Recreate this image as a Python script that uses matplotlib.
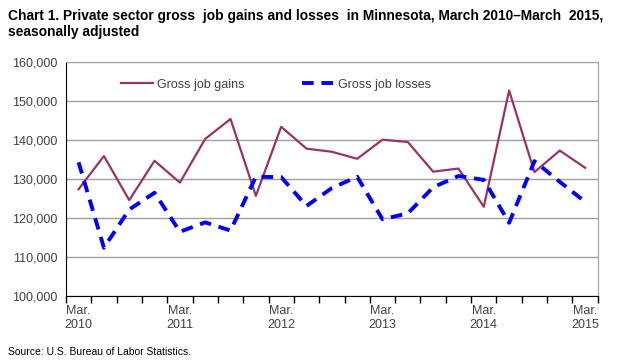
import numpy as np
import matplotlib.pyplot as plt

plt.rcParams['font.family'] = ['Liberation Sans', 'DejaVu Sans']

# Quarterly data, March 2010 - March 2015
quarters = ['Mar.\n2010', 'Jun.\n2010', 'Sep.\n2010', 'Dec.\n2010',
            'Mar.\n2011', 'Jun.\n2011', 'Sep.\n2011', 'Dec.\n2011',
            'Mar.\n2012', 'Jun.\n2012', 'Sep.\n2012', 'Dec.\n2012',
            'Mar.\n2013', 'Jun.\n2013', 'Sep.\n2013', 'Dec.\n2013',
            'Mar.\n2014', 'Jun.\n2014', 'Sep.\n2014', 'Dec.\n2014',
            'Mar.\n2015']
gains = [127300, 135800, 124500, 134600, 129000, 140200, 145300, 125600,
         143300, 137700, 136900, 135100, 140000, 139400, 131800, 132600,
         122800, 152600, 131700, 137200, 132800]
losses = [134200, 112300, 122100, 126400, 116400, 118800, 116700, 130500,
          130400, 123000, 127600, 130500, 119600, 121100, 127800, 130700,
          129700, 118700, 134500, 129200, 124100]

x = np.arange(len(quarters))

fig = plt.figure(figsize=(6.4, 3.64), dpi=100)
ax = fig.add_axes([0.103, 0.1876, 0.831, 0.643])

ax.plot(x, gains, color='#993366', lw=1.6, label='Gross job gains')
ax.plot(x, losses, color='#0000FF', lw=2.8, ls=(0, (3, 2)), label='Gross job losses')

ax.set_xlim(-0.5, len(quarters) - 0.5)
ax.set_ylim(100000, 160000)
ax.set_yticks(np.arange(100000, 160001, 10000))
ax.set_yticklabels([f'{v:,}' for v in range(100000, 160001, 10000)])
ax.grid(axis='y', color='#A0A0A0', lw=1)
ax.set_axisbelow(True)

label_idx = list(range(0, len(quarters), 4))
ax.set_xticks(label_idx)
ax.set_xticklabels([quarters[i] for i in label_idx])
ax.set_xticks(np.arange(-0.5, len(quarters)), minor=True)
ax.tick_params(axis='x', which='major', length=0, pad=7, labelsize=9, labelcolor='#404040')
ax.tick_params(axis='x', which='minor', length=5, width=1, color='black', direction='out')
ax.tick_params(axis='y', length=0, pad=6, labelsize=9, labelcolor='#404040')

for side in ['top', 'right']:
    ax.spines[side].set_color('#A0A0A0')
ax.spines['left'].set_color('black')
ax.spines['bottom'].set_color('black')

leg = ax.legend(loc='upper center', ncol=2, frameon=False, fontsize=9,
                bbox_to_anchor=(0.395, 0.975), handlelength=2.6, columnspacing=4.6,
                handletextpad=0.3)
for t in leg.get_texts():
    t.set_color('#404040')

fig.text(0.0125, 0.975, 'Chart 1. Private sector gross  job gains and losses  in Minnesota, March 2010\u2013March  2015,\nseasonally adjusted',
         ha='left', va='top', fontsize=9.9, fontweight='bold', linespacing=1.15)
fig.text(0.0125, 0.02, 'Source: U.S. Bureau of Labor Statistics.', ha='left', va='bottom', fontsize=7.5)

fig.savefig('out.png', dpi=100)
